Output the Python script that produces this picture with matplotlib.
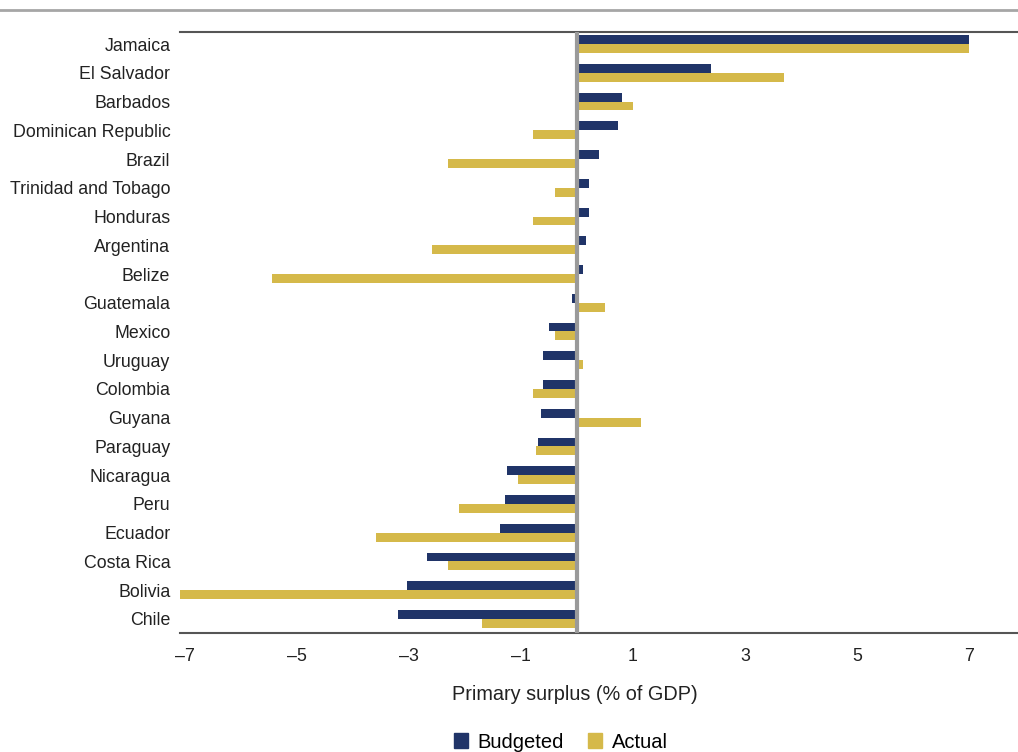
import numpy as np
import matplotlib
matplotlib.use("Agg")
import matplotlib.pyplot as plt
from matplotlib.lines import Line2D
from matplotlib.patches import Patch

plt.rcParams["font.family"] = ["Liberation Sans", "DejaVu Sans"]

countries = ["Jamaica", "El Salvador", "Barbados", "Dominican Republic", "Brazil",
             "Trinidad and Tobago", "Honduras", "Argentina", "Belize", "Guatemala",
             "Mexico", "Uruguay", "Colombia", "Guyana", "Paraguay", "Nicaragua",
             "Peru", "Ecuador", "Costa Rica", "Bolivia", "Chile"]
budgeted = [7.0, 2.4, 0.8, 0.73, 0.39, 0.21, 0.21, 0.16, 0.1, -0.09,
            -0.5, -0.6, -0.6, -0.65, -0.69, -1.25, -1.29, -1.38, -2.68, -3.04, -3.2]
actual = [7.0, 3.7, 1.0, -0.78, -2.3, -0.39, -0.79, -2.59, -5.45, 0.5,
          -0.39, 0.1, -0.79, 1.14, -0.73, -1.05, -2.1, -3.59, -2.3, -7.09, -1.7]
xticks = [-7, -5, -3, -1, 1, 3, 5, 7]

navy = "#203468"
gold = "#D5B94A"

fig = plt.figure(figsize=(10.18, 7.52), dpi=100)
ax = fig.add_axes([180 / 1018, 1 - 633 / 752, 1 - 180 / 1018, (633 - 32) / 752])

y = np.arange(len(countries))
h = 0.31
ax.barh(y - h / 2, budgeted, height=h, color=navy, label="Budgeted")
ax.barh(y + h / 2, actual, height=h, color=gold, label="Actual")

ax.axvline(0, color="#9A9A9A", lw=3, zorder=3)

ax.set_xlim(-7.09, 7.875)
ax.set_ylim(len(countries) - 1 + 0.49, -0.42)
ax.set_yticks(y)
ax.set_yticklabels(countries)
ax.set_xticks(xticks)
ax.set_xticklabels([str(t).replace("-", "\u2013") for t in xticks])
ax.tick_params(axis="both", length=0, labelsize=12.8, colors="#222222")
ax.tick_params(axis="y", pad=7)
ax.tick_params(axis="x", pad=11)

for side in ["left", "right"]:
    ax.spines[side].set_visible(False)
for side in ["top", "bottom"]:
    ax.spines[side].set_color("#555555")
    ax.spines[side].set_linewidth(1.5)

fig.text(575 / 1018, 1 - 695 / 752, "Primary surplus (% of GDP)", ha="center",
         va="center", fontsize=14.3, color="#222222")

fig.add_artist(Line2D([0, 1], [1 - 10 / 752, 1 - 10 / 752], color="#A6A6A6", lw=2))

handles = [Patch(color=navy), Patch(color=gold)]
fig.legend(handles, ["Budgeted", "Actual"], loc="center", ncol=2,
           bbox_to_anchor=(561 / 1018, 1 - 742 / 752), frameon=False,
           fontsize=14.5, handlelength=0.7, handleheight=0.7, columnspacing=1.2,
           handletextpad=0.5)

plt.savefig("out.png", dpi=100)
